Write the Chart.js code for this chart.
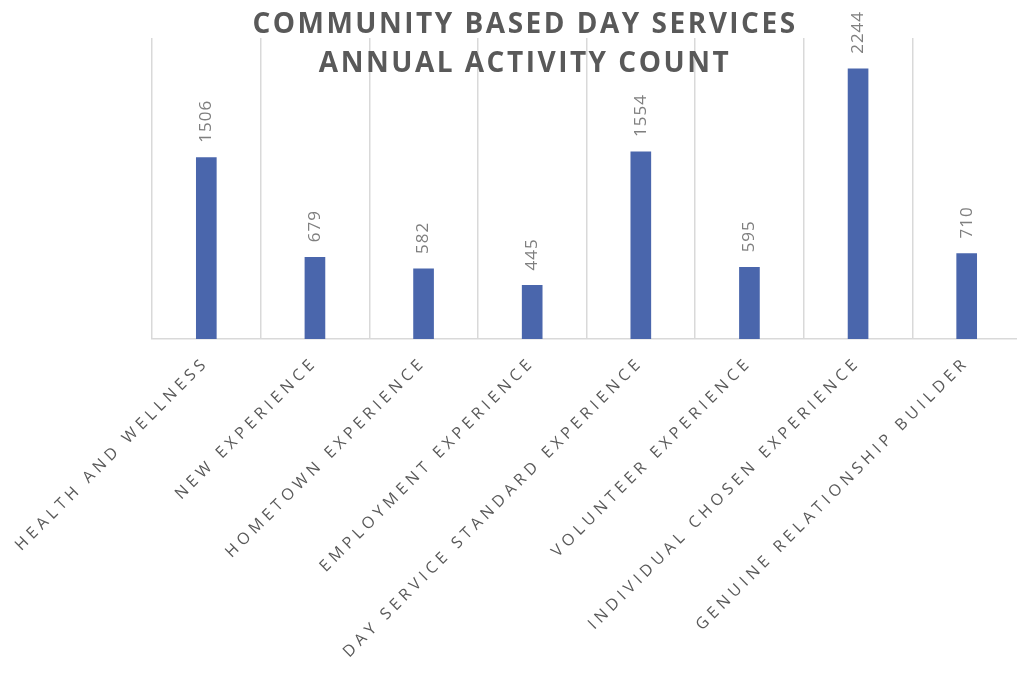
<!DOCTYPE html>
<html>
<head>
<meta charset="utf-8">
<title>Community Based Day Services</title>
<script src="https://cdn.jsdelivr.net/npm/chart.js@4.4.1/dist/chart.umd.min.js"></script>
<style>
    html, body { margin: 0; padding: 0; background: #fff; overflow: hidden; }
    #wrap { width: 1017px; height: 674px; overflow: hidden; }
    canvas { display: block; }
</style>
</head>
<body>
<div id="wrap"><canvas id="activityChart" width="1024" height="674" style="width:1024px;height:674px"></canvas></div>
<script>
// Activity categories and yearly counts
const categories = [
    'HEALTH AND WELLNESS',
    'NEW EXPERIENCE',
    'HOMETOWN EXPERIENCE',
    'EMPLOYMENT EXPERIENCE',
    'DAY SERVICE STANDARD EXPERIENCE',
    'VOLUNTEER EXPERIENCE',
    'INDIVIDUAL CHOSEN EXPERIENCE',
    'GENUINE RELATIONSHIP BUILDER'
];
const activityCounts = [1506, 679, 582, 445, 1554, 595, 2244, 710];
const titleLines = ['COMMUNITY BASED DAY SERVICES', 'ANNUAL ACTIVITY COUNT'];
const valueMax = 2500;

// Spaced-out tick labels (grid and ticks are drawn before the bars)
const spacingPlugin = {
    id: 'spacing',
    beforeDraw(chart) {
        chart.ctx.letterSpacing = '4.5px';
    }
};

// Vertical value labels above each bar
const valueLabels = {
    id: 'valueLabels',
    afterDatasetsDraw(chart) {
        const ctx = chart.ctx;
        const meta = chart.getDatasetMeta(0);
        ctx.save();
        ctx.letterSpacing = '1px';
        ctx.font = '17px "Open Sans"';
        ctx.fillStyle = '#7f7f7f';
        ctx.textAlign = 'left';
        ctx.textBaseline = 'middle';
        meta.data.forEach((bar, i) => {
            ctx.save();
            ctx.translate(bar.x, bar.y - 15);
            ctx.rotate(-Math.PI / 2);
            ctx.fillText(String(activityCounts[i]), 0, 0);
            ctx.restore();
        });
        ctx.restore();
    }
};

// Two-line title sitting over the top of the plot
const titlePlugin = {
    id: 'bigTitle',
    afterDraw(chart) {
        const ctx = chart.ctx;
        ctx.save();
        ctx.letterSpacing = '2.5px';
        ctx.font = 'bold 28px "Open Sans"';
        ctx.fillStyle = '#595959';
        ctx.textAlign = 'center';
        ctx.textBaseline = 'alphabetic';
        ctx.fillText(titleLines[0], 525, 33);
        ctx.fillText(titleLines[1], 525, 72);
        ctx.restore();
    }
};

const ctx = document.getElementById('activityChart').getContext('2d');
const activityChart = new Chart(ctx, {
    type: 'bar',
    data: {
        labels: categories,
        datasets: [{
            label: 'Activity Count',
            data: activityCounts,
            backgroundColor: '#4a66ac',
            borderWidth: 0,
            barThickness: 20
        }]
    },
    options: {
        responsive: false,
        animation: false,
        layout: { padding: { left: 152, right: 3, top: 38, bottom: 0 } },
        plugins: {
            legend: { display: false },
            title: { display: false },
            tooltip: { enabled: false }
        },
        scales: {
            x: {
                offset: true,
                grid: { offset: true, color: '#d9d9d9', lineWidth: 1.5, drawTicks: false },
                border: { color: '#d9d9d9', width: 1.5 },
                ticks: {
                    autoSkip: false,
                    minRotation: 45,
                    maxRotation: 45,
                    padding: 14,
                    color: '#595959',
                    font: { family: 'Open Sans', size: 16 }
                },
                afterFit(scale) {
                    scale.paddingLeft = 0;
                    scale.paddingRight = 0;
                    scale.height = 335;
                }
            },
            y: {
                display: false,
                min: 0,
                max: valueMax
            }
        }
    },
    plugins: [spacingPlugin, valueLabels, titlePlugin]
});
</script>
</body>
</html>
